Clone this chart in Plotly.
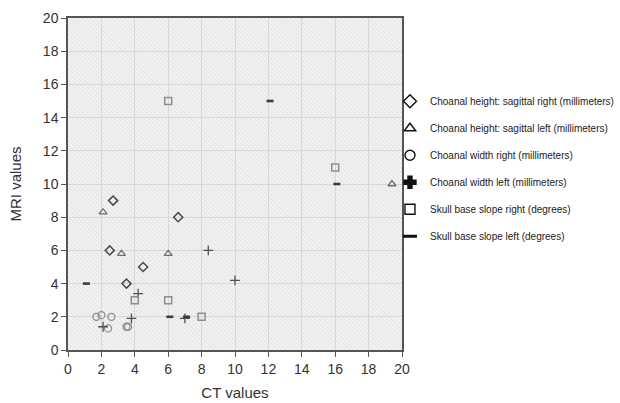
import base64
import plotly.graph_objects as go

# ---- data ----
diamond_x = [2.7, 6.6, 2.5, 4.5, 3.5]
diamond_y = [9, 8, 6, 5, 4]
triangle_x = [2.1, 3.2, 6.0, 19.4]
triangle_y = [8.3, 5.8, 5.8, 10]
circle_x = [1.7, 2.0, 2.6, 2.4, 3.5, 3.6]
circle_y = [2.0, 2.1, 2.0, 1.3, 1.4, 1.4]
cross_x = [2.1, 4.2, 3.8, 7.0, 8.4, 10.0]
cross_y = [1.4, 3.4, 1.9, 1.9, 6.0, 4.2]
square_x = [6.0, 4.0, 6.0, 8.0, 16.0]
square_y = [15, 3, 3, 2, 11]
dash_x = [1.1, 6.1, 7.1, 12.1, 16.1]
dash_y = [4, 2, 2, 15, 10]

names = [
    "Choanal height: sagittal right (millimeters)",
    "Choanal height: sagittal left (millimeters)",
    "Choanal width right (millimeters)",
    "Choanal width left (millimeters)",
    "Skull base slope right (degrees)",
    "Skull base slope left (degrees)",
]
tick_vals = list(range(0, 21, 2))

series = [
    (diamond_x, diamond_y, "diamond-open", "#4a4a4a", 7, 1.5),
    (triangle_x, triangle_y, "triangle-up-open", "#6e6e6e", 7, 1.3),
    (circle_x, circle_y, "circle-open", "#8e8e8e", 7, 1.3),
    (cross_x, cross_y, "cross-thin-open", "#505050", 7, 1.3),
    (square_x, square_y, "square-open", "#8e8e8e", 7, 1.5),
    (dash_x, dash_y, "line-ew-open", "#3a3a3a", 5, 2.6),
]
legend_symbols = ["diamond-open", "triangle-up-open", "circle-open", "cross", "square-open", "line-ew-open"]

fig = go.Figure()
for i, ((xs, ys, sym, col, sz, lw), nm) in enumerate(zip(series, names)):
    fig.add_trace(go.Scatter(
        x=xs, y=ys, mode="markers", name=nm, showlegend=False,
        marker=dict(symbol=sym, size=sz, color=col, line=dict(color=col, width=lw)),
    ))
# legend entries (black, larger symbols as in the reference legend)
for i, (sym, nm) in enumerate(zip(legend_symbols, names)):
    lw = 3 if sym == "line-ew-open" else 1.4
    fig.add_trace(go.Scatter(
        x=[None], y=[None], mode="markers", name=nm, legendgroup=f"g{i}",
        marker=dict(symbol=sym, size=10, color="#111111", line=dict(color="#111111", width=lw)),
    ))

# hatched background image
svg = (
    '<svg xmlns="http://www.w3.org/2000/svg" width="334" height="332" preserveAspectRatio="none">'
    '<defs><pattern id="p" width="3" height="3" patternUnits="userSpaceOnUse" patternTransform="rotate(-45)">'
    '<rect width="3" height="3" fill="#f5f5f5"/><rect width="1.3" height="3" fill="#e4e4e4"/></pattern></defs>'
    '<rect width="334" height="332" fill="url(#p)"/></svg>'
)
src = "data:image/svg+xml;base64," + base64.b64encode(svg.encode()).decode()

axis_common = dict(
    range=[0, 20], tickvals=tick_vals, showgrid=True, gridcolor="#d8d8d8", gridwidth=1,
    showline=True, linecolor="#555555", linewidth=1.5, mirror=True,
    ticks="outside", ticklen=5, tickcolor="#555555", zeroline=False, automargin=False,
    tickfont=dict(size=14, color="#333333"),
)

fig.update_layout(
    width=620, height=403,
    margin=dict(l=68, r=218, t=18, b=53, autoexpand=False),
    paper_bgcolor="white", plot_bgcolor="rgba(0,0,0,0)",
    font=dict(family="Liberation Sans, Arial, sans-serif", color="#333333"),
    xaxis=dict(**axis_common, title=dict(text="CT values", font=dict(size=15), standoff=12)),
    yaxis=dict(**axis_common, title=dict(text="MRI values", font=dict(size=15), standoff=18)),
    legend=dict(
        x=0.964, xanchor="left", y=0.793, yanchor="top",
        font=dict(size=10, color="#222222"), bgcolor="rgba(0,0,0,0)",
        traceorder="grouped", tracegroupgap=8,
    ),
    images=[dict(source=src, xref="paper", yref="paper", x=0, y=1, sizex=1, sizey=1,
                 sizing="stretch", layer="below", xanchor="left", yanchor="top")],
)

fig.write_html("out.html", config={"displayModeBar": False},
               post_script="document.body.style.margin='0';")
